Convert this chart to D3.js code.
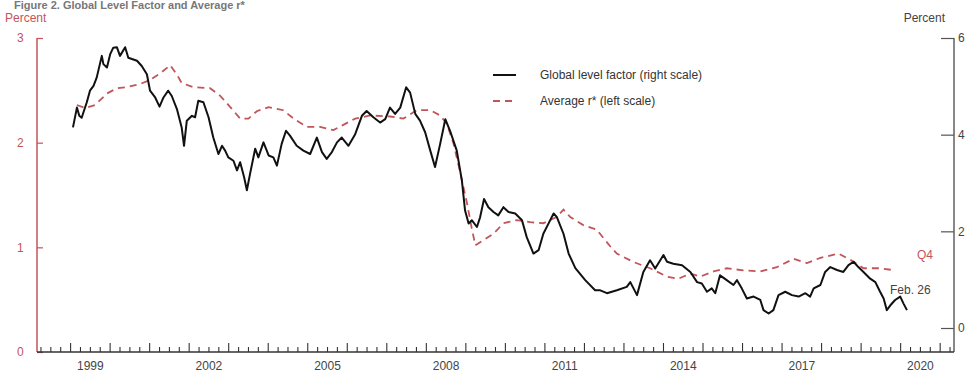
<!DOCTYPE html>
<html>
<head>
<meta charset="utf-8">
<script src="https://cdn.jsdelivr.net/npm/d3@7"></script>
<style>
  body { margin: 0; background: #fff; }
  svg { display: block; font-family: 'Liberation Sans', Arial, sans-serif; }
</style>
</head>
<body>
<script>
// Global level factor (right scale), decimal years
const levelDates = [
  1999.06, 1999.16, 1999.22, 1999.28, 1999.41, 1999.49, 1999.58, 1999.66, 1999.79, 1999.83,
  1999.92, 2000.00, 2000.08, 2000.17, 2000.25, 2000.38, 2000.46, 2000.68, 2000.80, 2000.93,
  2001.01, 2001.14, 2001.25, 2001.35, 2001.47, 2001.56, 2001.69, 2001.81, 2001.87, 2001.94,
  2002.07, 2002.15, 2002.23, 2002.36, 2002.49, 2002.61, 2002.74, 2002.83, 2002.91, 2002.99,
  2003.12, 2003.21, 2003.29, 2003.39, 2003.46, 2003.54, 2003.67, 2003.75, 2003.88, 2004.01,
  2004.13, 2004.22, 2004.34, 2004.45, 2004.55, 2004.72, 2004.89, 2005.06, 2005.23, 2005.36,
  2005.48, 2005.61, 2005.74, 2005.86, 2006.03, 2006.20, 2006.37, 2006.49, 2006.66, 2006.83,
  2006.96, 2007.08, 2007.21, 2007.34, 2007.49, 2007.59, 2007.72, 2007.84, 2007.97, 2008.10,
  2008.22, 2008.35, 2008.48, 2008.60, 2008.77, 2008.90, 2008.98, 2009.07, 2009.15, 2009.28,
  2009.36, 2009.46, 2009.57, 2009.70, 2009.82, 2009.95, 2010.08, 2010.25, 2010.42, 2010.54,
  2010.71, 2010.84, 2010.96, 2011.09, 2011.22, 2011.30, 2011.47, 2011.60, 2011.77, 2012.02,
  2012.27, 2012.40, 2012.57, 2012.82, 2013.07, 2013.16, 2013.33, 2013.49, 2013.66, 2013.79,
  2014.00, 2014.09, 2014.25, 2014.47, 2014.68, 2014.85, 2014.97, 2015.10, 2015.22, 2015.31,
  2015.43, 2015.60, 2015.77, 2015.86, 2015.98, 2016.11, 2016.28, 2016.45, 2016.53, 2016.66,
  2016.78, 2016.91, 2017.08, 2017.25, 2017.42, 2017.59, 2017.71, 2017.80, 2017.97, 2018.09,
  2018.22, 2018.39, 2018.55, 2018.68, 2018.81, 2018.93, 2019.06, 2019.23, 2019.36, 2019.48,
  2019.57, 2019.65, 2019.74, 2019.86, 2019.99, 2020.07, 2020.16
];
const levelValues = [
  4.15, 4.56, 4.39, 4.35, 4.67, 4.91, 5.01, 5.18, 5.63, 5.46,
  5.39, 5.66, 5.80, 5.81, 5.63, 5.81, 5.59, 5.53, 5.42, 5.25,
  4.91, 4.77, 4.58, 4.77, 4.91, 4.80, 4.53, 4.15, 3.77, 4.29,
  4.39, 4.36, 4.70, 4.67, 4.36, 3.94, 3.60, 3.77, 3.67, 3.53,
  3.46, 3.26, 3.43, 3.12, 2.85, 3.19, 3.71, 3.53, 3.84, 3.57,
  3.53, 3.36, 3.81, 4.08, 3.98, 3.77, 3.67, 3.60, 3.94, 3.64,
  3.50, 3.64, 3.84, 3.94, 3.77, 4.01, 4.39, 4.49, 4.36, 4.25,
  4.32, 4.56, 4.43, 4.56, 4.98, 4.87, 4.43, 4.29, 4.05, 3.67,
  3.33, 3.81, 4.32, 4.08, 3.67, 3.05, 2.43, 2.16, 2.23, 2.09,
  2.29, 2.67, 2.50, 2.40, 2.33, 2.50, 2.40, 2.37, 2.23, 1.88,
  1.54, 1.61, 1.95, 2.16, 2.37, 2.30, 1.95, 1.54, 1.24, 0.99,
  0.78, 0.78, 0.72, 0.78, 0.85, 0.95, 0.68, 1.16, 1.40, 1.23,
  1.51, 1.37, 1.33, 1.30, 1.16, 0.95, 0.92, 0.75, 0.82, 0.72,
  1.09, 0.99, 0.89, 0.99, 0.82, 0.61, 0.65, 0.58, 0.37, 0.30,
  0.37, 0.68, 0.75, 0.68, 0.65, 0.72, 0.65, 0.82, 0.89, 1.16,
  1.26, 1.20, 1.16, 1.30, 1.37, 1.26, 1.16, 1.02, 0.95, 0.75,
  0.61, 0.37, 0.47, 0.58, 0.65, 0.51, 0.37
];

// Average r* (left scale)
const rstarDates = [
  1999.16, 1999.37, 1999.62, 1999.92, 2000.17, 2000.42, 2000.76, 2001.01, 2001.26, 2001.52,
  2001.69, 2001.81, 2002.11, 2002.53, 2002.78, 2003.04, 2003.29, 2003.50, 2003.71, 2004.01,
  2004.38, 2004.64, 2004.98, 2005.31, 2005.65, 2005.90, 2006.20, 2006.58, 2007.08, 2007.42,
  2007.76, 2008.10, 2008.35, 2008.52, 2008.69, 2008.86, 2009.03, 2009.15, 2009.24, 2009.45,
  2009.70, 2009.95, 2010.29, 2010.63, 2010.96, 2011.30, 2011.47, 2011.64, 2011.98, 2012.31,
  2012.65, 2012.82, 2013.24, 2013.66, 2014.09, 2014.38, 2014.68, 2014.93, 2015.27, 2015.60,
  2016.02, 2016.45, 2016.87, 2017.29, 2017.63, 2017.97, 2018.43, 2018.73, 2019.06, 2019.48,
  2019.86
];
const rstarValues = [
  2.36, 2.33, 2.36, 2.47, 2.52, 2.53, 2.56, 2.60, 2.66, 2.74,
  2.65, 2.57, 2.53, 2.52, 2.45, 2.34, 2.23, 2.23, 2.30, 2.34,
  2.31, 2.23, 2.15, 2.15, 2.12, 2.17, 2.23, 2.26, 2.25, 2.23,
  2.31, 2.31, 2.26, 2.18, 1.99, 1.71, 1.42, 1.18, 1.02, 1.07,
  1.13, 1.23, 1.26, 1.24, 1.23, 1.29, 1.36, 1.29, 1.21, 1.17,
  1.01, 0.94, 0.86, 0.80, 0.72, 0.70, 0.75, 0.72, 0.77, 0.80,
  0.78, 0.77, 0.81, 0.89, 0.85, 0.90, 0.94, 0.88, 0.80, 0.80,
  0.78
];

const leftTicks = [0, 1, 2, 3];
const rightTicks = [0, 2, 4, 6];
const yearLabels = [1999, 2002, 2005, 2008, 2011, 2014, 2017, 2020];

const red = '#c2555a';
const grey = '#444';

const svgWidth = 971;
const svgHeight = 377;

const svg = d3.select('body')
    .append('svg')
    .attr('width', svgWidth)
    .attr('height', svgHeight);

const x = d3.scaleLinear()
    .domain([1998.15, 2021.35])
    .range([37, 954]);

const yLeft = d3.scaleLinear()
    .domain([0, 3])
    .range([352, 38]);

const yRight = d3.scaleLinear()
    .domain([0, 6])
    .range([328, 38]);

// title along the top edge
svg.append('text')
    .attr('x', 14)
    .attr('y', 9)
    .style('font-size', '11px')
    .style('font-weight', 'bold')
    .style('fill', '#777')
    .text('Figure 2. Global Level Factor and Average r*');

// unit headers
svg.append('text')
    .attr('x', 5)
    .attr('y', 22)
    .style('font-size', '12px')
    .style('fill', red)
    .text('Percent');

svg.append('text')
    .attr('x', 945)
    .attr('y', 22)
    .attr('text-anchor', 'end')
    .style('font-size', '12px')
    .style('fill', grey)
    .text('Percent');

// left axis
const leftAxis = svg.append('g')
    .attr('transform', `translate(${x.range()[0]},0)`)
    .call(d3.axisRight(yLeft).tickValues(leftTicks).tickSize(6).tickFormat(d3.format('d')));
leftAxis.select('.domain').attr('stroke', red).attr('stroke-width', 1.5).attr('d', `M0,${yLeft(3)}V${yLeft(0)}`);
leftAxis.selectAll('.tick line').attr('stroke', red).attr('stroke-width', 1.2);
leftAxis.selectAll('.tick text')
    .attr('x', -20)
    .attr('text-anchor', 'start')
    .style('font-size', '12px')
    .style('fill', red);

// right axis
const rightAxis = svg.append('g')
    .attr('transform', `translate(${x.range()[1]},0)`)
    .call(d3.axisLeft(yRight).tickValues(rightTicks).tickSize(13).tickFormat(d3.format('d')));
rightAxis.select('.domain').attr('stroke', '#888').attr('stroke-width', 2).attr('d', `M0,${yRight(6)}V${yLeft(0)}`);
rightAxis.selectAll('.tick line').attr('stroke', '#555').attr('stroke-width', 1.2);
rightAxis.selectAll('.tick text')
    .attr('x', 4)
    .attr('text-anchor', 'start')
    .style('font-size', '12px')
    .style('fill', grey);

// bottom axis with quarterly ticks pointing up
const quarters = d3.range(Math.ceil(1998.15 * 4), Math.floor(2021.35 * 4) + 1).map(q => q / 4);
const bottom = svg.append('g')
    .attr('transform', `translate(0,${yLeft(0)})`);
bottom.append('line')
    .attr('x1', x.range()[0])
    .attr('x2', x.range()[1])
    .attr('stroke', '#333')
    .attr('stroke-width', 1.3);
bottom.selectAll('.qtick')
    .data(quarters)
    .enter()
    .append('line')
    .attr('class', 'qtick')
    .attr('x1', d => x(d))
    .attr('x2', d => x(d))
    .attr('y1', 0)
    .attr('y2', d => Number.isInteger(d) ? -9 : -5)
    .attr('stroke', '#333')
    .attr('stroke-width', 1.1);
bottom.selectAll('.ylabel')
    .data(yearLabels)
    .enter()
    .append('text')
    .attr('class', 'ylabel')
    .attr('x', d => x(d + 0.5))
    .attr('y', 18)
    .attr('text-anchor', 'middle')
    .style('font-size', '12px')
    .style('fill', grey)
    .text(d => d);

// series
const rstar = rstarDates.map((d, i) => [d, rstarValues[i]]);
const level = levelDates.map((d, i) => [d, levelValues[i]]);

svg.append('path')
    .datum(rstar)
    .attr('fill', 'none')
    .attr('stroke', red)
    .attr('stroke-width', 1.8)
    .attr('stroke-dasharray', '7,5')
    .attr('d', d3.line().x(d => x(d[0])).y(d => yLeft(d[1])));

svg.append('path')
    .datum(level)
    .attr('fill', 'none')
    .attr('stroke', '#111')
    .attr('stroke-width', 2)
    .attr('stroke-linejoin', 'round')
    .attr('d', d3.line().x(d => x(d[0])).y(d => yRight(d[1])));

// end labels
svg.append('text')
    .attr('x', 917)
    .attr('y', 259)
    .style('font-size', '12px')
    .style('fill', red)
    .text('Q4');

svg.append('text')
    .attr('x', 890)
    .attr('y', 294)
    .style('font-size', '12px')
    .style('fill', grey)
    .text('Feb. 26');

// legend
const legend = svg.append('g');
legend.append('line')
    .attr('x1', 493).attr('x2', 516)
    .attr('y1', 75).attr('y2', 75)
    .attr('stroke', '#111')
    .attr('stroke-width', 2);
legend.append('text')
    .attr('x', 540)
    .attr('y', 79)
    .style('font-size', '12px')
    .style('fill', '#333')
    .text('Global level factor (right scale)');
legend.append('line')
    .attr('x1', 493).attr('x2', 516)
    .attr('y1', 101).attr('y2', 101)
    .attr('stroke', red)
    .attr('stroke-width', 1.8)
    .attr('stroke-dasharray', '7,5');
legend.append('text')
    .attr('x', 540)
    .attr('y', 105)
    .style('font-size', '12px')
    .style('fill', '#333')
    .text('Average r* (left scale)');
</script>
</body>
</html>
